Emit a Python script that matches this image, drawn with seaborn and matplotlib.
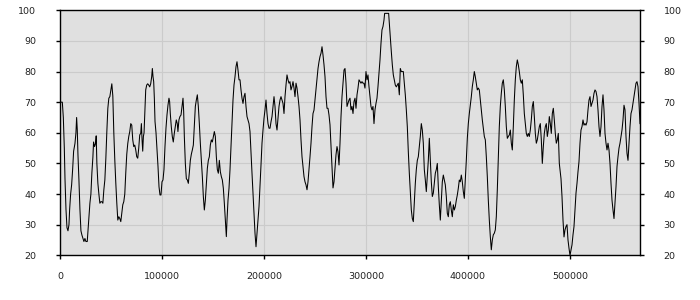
import matplotlib
matplotlib.use("Agg")
import matplotlib.pyplot as plt
import seaborn as sns
import pandas as pd

x_vals = [
    0, 2280, 3260, 4230, 4890, 5860, 6840, 7820, 8790, 9450, 10420, 11400, 12380, 13350, 14660, 15630,
    16290, 16940, 17590, 18560, 19540, 20520, 21500, 22470, 23450, 24430, 25400, 26710, 27360, 28340,
    29310, 30290, 31270, 32240, 32900, 33870, 34850, 35500, 36150, 37130, 38110, 39080, 40060, 41040,
    42020, 42990, 43970, 44950, 45920, 46900, 47880, 48860, 49830, 50810, 51790, 52760, 53740, 54720,
    55690, 56670, 57650, 58630, 59600, 60580, 61560, 62530, 63510, 64490, 65460, 66440, 67420, 68400,
    69370, 70350, 71330, 72300, 73280, 74260, 75230, 76210, 77190, 78170, 79140, 79800, 80450, 81100,
    81750, 82400, 83380, 84030, 85010, 85980, 86960, 87940, 88910, 89890, 90540, 91200, 91850, 92500,
    93150, 94130, 95100, 96080, 97060, 98040, 99010, 99990, 100970, 101940, 102920, 103900, 104880,
    105850, 106830, 107480, 108130, 109110, 110090, 111060, 112040, 113020, 113990, 114970, 115620,
    116600, 117580,
    118630, 119610, 120590, 121240, 121900, 122880, 123860, 124840, 125820, 126800, 127780, 128760,
    129740, 130720, 131700, 132680, 133660, 134640, 135620, 136600, 137580, 138570, 139550, 140530,
    141510, 142490, 143470, 144450, 145430, 146410, 147390, 148370, 149350, 150330, 151310, 152290,
    153270, 154250, 155230, 156210, 157190, 158170, 159150, 160130, 161110, 162090, 163080, 163730,
    164710, 165690, 166670, 167650, 168630, 169610, 170590, 171570, 172550, 173530, 174510, 175490,
    176470, 177450, 178430, 179410, 180390, 181370, 182350, 183340, 184320, 185300, 186280, 187260,
    188240, 189220, 190200, 191180, 192160, 193140, 194120, 195100, 196080, 197060, 198040, 199020,
    200000, 200980, 201960, 202940, 203920, 204910, 205890, 206870, 207850, 208830, 209810, 210790,
    211770, 212750, 213730, 214710, 215690, 216670, 217650, 218630, 219610, 220590, 221570, 222550,
    223530, 224510, 225490, 226470, 227450, 228440, 229420, 230400, 231380, 232360, 233340, 234320,
    235300, 236280, 237260, 238240, 239220, 240200, 241180, 242160, 243140, 244120, 245100, 246080,
    247060, 248040, 249020, 250000, 250980, 251960, 252950, 253930, 254910, 255890, 256870, 257850,
    258830, 259810, 260790, 261770, 262750, 263730, 264710, 265690, 266670, 267650, 268630, 269610,
    270590, 271570, 272550, 273530, 274510, 275490, 276470, 277450, 278440, 279420, 280400, 281380,
    282360, 283340, 284320, 285300, 286280, 287260, 288240, 289220, 290200, 291180, 292160, 293140,
    295080, 296060, 297040, 298020, 299000, 299980, 300960, 301940, 302920, 303900, 304880, 305860,
    306850, 307830, 308810, 309790, 310770, 311750, 312730, 313710, 314690, 315670, 316650, 317630,
    318280, 319260, 320240, 321220, 322200, 322860, 323840, 324820, 325800, 326780, 327760, 328740,
    329720, 330700, 331680, 332660, 333640, 334620, 335600, 336580, 337560, 338540, 339530, 340510,
    341490, 342470, 343450, 344430, 345410, 346390, 347370, 348350, 349330, 350310, 351290, 352270,
    353250, 354230, 355210, 356190, 357170, 358150, 359130, 360110, 361090, 362080, 363060, 364040,
    365020, 366000, 366980, 367960, 368940, 369920, 370900, 371880, 372860, 373840, 374820, 375800,
    376780, 377760, 378740, 379720, 380700, 381680, 382660, 383640, 384620, 385600, 386590, 387570,
    388550, 389530, 390510, 391490, 392470, 393450, 394430, 395410, 396390, 397370, 398350, 399330,
    400310, 401290, 402270, 403250, 404230, 405210, 406190, 407170, 408150, 409130, 410120, 411100,
    412080, 413060, 414040, 415020, 416000, 416980, 417960, 418940, 419920, 420900, 421880, 422860,
    423840, 424820, 425800, 426780, 427760, 428740, 429720, 430700, 431680, 432660, 433640, 434620,
    435610, 436590, 437570, 438550, 439530, 440510, 441490, 442470, 443450, 444430, 445410, 446390,
    447370, 448350, 449330, 450310, 451290, 452270, 453250, 454230, 455210, 456190, 457170, 458150,
    459130, 460110, 461090, 462070, 463060, 464040, 465020, 466000, 466980, 467960, 468940, 469920,
    470900, 471880, 472860, 473840, 474820, 475800, 476780, 477760, 478740, 479720, 480700, 481680,
    482660, 483640, 484620, 485600, 486580, 487560, 488540, 489520,
    491180, 492160, 493140, 494120, 495100, 496080, 497060, 498040, 499020, 500000, 500980, 501960,
    502940, 503920, 504900, 505880, 506860, 507840, 508820, 509800, 510780, 511760, 512740, 513720,
    514700, 515690, 516670, 517650, 518630, 519610, 520590, 521570, 522550, 523530, 524510, 525490,
    526470, 527450, 528430, 529410, 530390, 531370, 532350, 533330, 534320, 535300, 536280, 537260,
    538240, 539220, 540200, 541180, 542160, 543140, 544120, 545100, 546080, 547060, 548040, 549020,
    550000, 550980, 551960, 552940, 553920, 554900, 555880, 556860, 557840, 558820, 559800, 560780,
    561760, 562740, 563720, 564700, 565680, 566660, 567650, 568630,
]

y_vals = [
    70, 70, 65, 55, 45, 35, 29, 28, 30, 35, 40, 43, 48, 54, 56.5, 60,
    65, 61, 53, 44.6, 35, 28, 26.6, 25.5, 24.5, 25.5, 24.5, 24.5, 27.7, 33,
    37, 40, 47, 52, 57, 55.5, 56.5, 59, 50, 43.5, 40, 37, 37.5, 37.5,
    37, 41.4, 44.6, 51.7, 60.4, 68, 71.3, 71.8, 74, 76, 72, 60, 51, 43.5,
    37, 31.5, 32.6, 32, 31, 33.7, 36.5, 37.5, 40, 47, 53, 56.5, 58.8, 60.4,
    63, 62.5, 57.7, 55.5, 56, 54.4, 52.2, 51.7, 55, 59.3, 59.8, 63, 57.7, 54,
    58.8, 60, 68.6, 74, 75.6, 76, 75.6, 75, 76, 78.3, 81, 78.3, 76.7, 71.3,
    63.7, 60, 54.4, 49, 42.4, 39.7, 39.7, 44, 44.6, 48, 55.5, 61.5, 65.8,
    69, 71.3, 70.2, 66.3, 62, 58.8, 57, 59.8, 62, 64.2, 63, 60.4,
    64.2, 65.3,
    65.8, 68.6, 71.3, 67, 58.8, 50, 45, 44.6, 43.5, 47, 51, 53,
    54.4, 56, 62, 68.6, 70.7, 72.4, 68.6, 63, 56.6, 51, 45.7, 39.2,
    34.8, 38, 43, 48.4, 51, 52.2, 56, 57.7, 57, 58.8, 60.4, 58.8,
    52.2, 48, 46.8, 51, 47.3, 45.7, 44.6, 41.9, 37, 31.5, 26.1, 31.5,
    38, 41.9, 48, 55.5, 63, 70.7, 75.6, 78.3, 81.6, 83.2, 80.5, 77.3,
    77.3, 74, 71.3, 69.6, 71.8, 72.9, 68.6, 65.3, 64.2, 63, 60.4, 53.3,
    46.8, 40.3, 33.7, 27.2, 22.8, 27.2, 31.5, 35.9, 42.4, 49.5, 56.6, 60.9,
    64.7, 67.5, 70.7, 66.3, 63, 61.5, 61.5, 63.6, 65.3, 68.6, 71.8, 68.6,
    63, 60.9, 64.7, 68.6, 70.7, 71.8, 70.7, 69.6, 66.3, 71.8, 75.6, 78.9,
    77.3, 76.2, 76.7, 74, 75.1, 76.7, 74.6, 71.8, 76.2, 74.6, 71.8, 68.6,
    64.2, 57.7, 52.2, 49, 45.7, 44, 43, 41.4, 44, 48, 52.2, 56.6,
    62, 66.3, 67.4, 70.7, 74, 77.3, 81, 83.2, 84.9, 86, 88.1, 85.4,
    82.2, 78.3, 71.8, 68, 68, 65.8, 62.6, 55.5, 48.4, 42, 44, 48.4,
    52.8, 55.5, 53.8, 49.5, 56.6, 65.3, 71.8, 76.2, 80.5, 81, 76.2, 68.6,
    69.6, 70.7, 71.3, 67.5, 68.6, 66.3, 70.2, 71.3, 68, 72.4, 74.6, 77.3,
    76.2, 76.7, 76.2, 76.2, 74.6, 80, 77.3, 78.9, 75.1, 71.8, 68.6, 67.5,
    68.6, 63, 67.5, 69.6, 71.3, 75.1, 79.4, 83.8, 89.2, 93.6, 94.7, 96.8,
    99, 99, 99, 99, 99, 95.8, 91.4, 86.5, 82.2, 78.9, 77.3, 75.6,
    75, 75.6, 76.2, 72.4, 81, 80, 80, 80, 76.2, 72.4, 67.5, 62,
    53.8, 46.8, 40.8, 34.8, 32, 31, 37, 43.5, 48, 51, 52.2, 55.5,
    58.8, 63, 60.9, 56.6, 48, 44.6, 40.8, 46.2, 51, 58.2, 51, 44,
    39.2, 40.3, 43.5, 46.8, 48, 50, 42.4, 36.5, 31.5, 38, 44, 46.2,
    44.6, 43, 39.2, 33.7, 32.6, 36.5, 37.5, 34.8, 32.6, 36.5, 34.8, 35.9,
    38, 39.7, 41.9, 44.6, 44, 46.2, 44, 40.8, 38.6, 44.6, 51, 58.2,
    63, 66.3, 69, 71.8, 75.1, 77.3, 80, 78.3, 76.2, 74, 74.6, 74,
    70.7, 67.5, 64.2, 61.5, 58.8, 57.7, 52.2, 45.7, 38, 31.5, 26.1, 21.8,
    25, 26.7, 27.2, 28.3, 32.6, 41.4, 52.2, 62, 68.6, 72.9, 76.2, 77.3,
    74, 68.6, 62, 58.2, 58.8, 59.3, 60.9, 56.6, 54.4, 62, 70.7, 77.3,
    81.6, 83.8, 82.2, 80, 77.3, 76.2, 77.3, 72.4, 66.3, 63, 59.8, 58.8,
    59.8, 58.8, 60.9, 64.2, 68.6, 70.2, 65.3, 59.8, 56.6, 57.7, 59.8, 62,
    63, 57.7, 50, 55.5, 59.8, 62, 63, 58.8, 60.9, 65.3, 63, 59.8,
    66.3, 68, 64.2, 59.8, 56.6, 57.7, 59.8, 50,
    45, 39.2, 31.5, 26, 28.3, 29.4, 30, 25, 22.3, 20, 21.8, 23.4,
    26.7, 29.4, 34.8, 40.3, 43.5, 47.3, 50.6, 56.6, 60.9, 62, 64.2, 62.5,
    63, 62.5, 63.6, 67.5, 70.7, 71.8, 68.6, 69.6, 70.7, 72.9, 74, 73.5,
    71.8, 67.5, 62, 58.8, 62, 68.6, 72.4, 67.5, 59.8, 56.6, 54.4, 56.6,
    54.4, 50, 43.5, 38, 34.8, 32, 37, 42.4, 49, 52.2, 55, 56.6,
    58.8, 60.9, 64.2, 69, 67.5, 58.8, 53.3, 51, 56.6, 62, 66.3, 67.5,
    69.6, 71.8, 74, 76.2, 76.7, 75.1, 69.6, 63,
]

x_ticks = [0, 100000, 200000, 300000, 400000, 500000]
y_ticks = [20, 30, 40, 50, 60, 70, 80, 90, 100]
x_max = 568630

df = pd.DataFrame({"x": x_vals, "y": y_vals})

fig = plt.figure(figsize=(7, 3), dpi=100)
ax = fig.add_axes([60 / 700, 1 - 255.3 / 300, 580 / 700, 245 / 300])
ax.set_facecolor("#e0e0e0")

sns.lineplot(data=df, x="x", y="y", ax=ax, color="black", linewidth=0.75,
             estimator=None, sort=False)

ax.set_xlim(0, x_max)
ax.set_ylim(20, 100)
ax.set_xticks(x_ticks)
ax.set_xticklabels([str(t) for t in x_ticks])
ax.set_yticks(y_ticks)
ax.set_yticklabels([str(t) for t in y_ticks])
ax.set_xlabel("")
ax.set_ylabel("")
ax.grid(True, color="#cbcbcb", linewidth=0.8)
ax.set_axisbelow(True)

for s in ["left", "bottom", "right", "top"]:
    ax.spines[s].set_color("black")
    ax.spines[s].set_linewidth(1.0)

ax.tick_params(axis="y", which="both", left=True, right=True, labelleft=True,
               labelright=True, length=3, width=1, direction="out",
               labelsize=6.8, pad=14, colors="black", labelcolor="#222222")
ax.tick_params(axis="x", length=3, width=1, direction="out",
               labelsize=6.8, pad=9, colors="black", labelcolor="#222222")

fig.savefig("out.png", dpi=100, facecolor="white")
